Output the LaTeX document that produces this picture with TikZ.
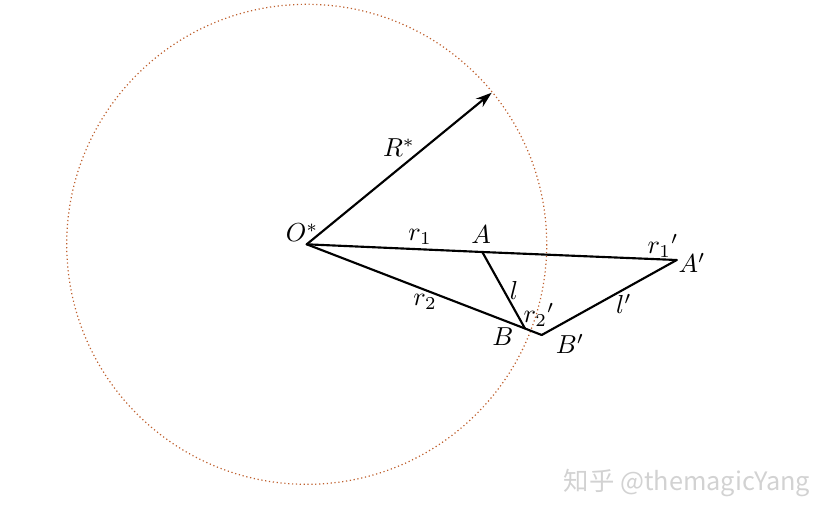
\documentclass[tikz,border=0pt]{standalone}
\usepackage{amsmath,amssymb}
\usepackage{graphicx}
\usepackage{xcolor}
\usepackage{fontspec}
\newfontfamily\cjkfont{Noto Sans CJK SC}
\usetikzlibrary{arrows.meta}

\definecolor{circbrown}{RGB}{190,95,45}
\definecolor{markgrey}{RGB}{210,210,210}
\newcommand{\ptlab}[1]{\scalebox{1.95}{$#1$}}

\begin{document}
\begin{tikzpicture}[x=0.75pt,y=0.75pt,yscale=-1,xscale=1,
  seg/.style={line width=1.6pt,line cap=round},
  lbl/.style={font=\normalsize,inner sep=0.75pt}]
\useasboundingbox (0,0) rectangle (831,519);

% Points
\coordinate (O) at (306.7,244.3);
\coordinate (R) at (491.7,92.7);
\coordinate (A) at (482.3,252);
\coordinate (B) at (525,328.5);
\coordinate (Bp) at (541.7,335);
\coordinate (Ap) at (676.7,260);

% Circle
\draw [circbrown,dotted,line width=0.9pt] (O) circle [radius=240];

% Straight Lines
\draw [seg,-{Stealth[length=12pt,width=8pt]}] (O) -- (R);
\draw [seg] (O) -- (A) -- (Ap);
\draw [seg] (O) -- (B) -- (Bp);
\draw [seg] (A) -- (B);
\draw [seg] (Bp) -- (Ap);

% Text Node
\node [lbl] (lO) at (302,233) {\ptlab{O^*}};
\node [lbl] (lR) at (399,148) {\ptlab{R^*}};
\node [lbl] (lr1) at (420,237) {\ptlab{r_1}};
\node [lbl] (lA) at (481,235) {\ptlab{A}};
\node [lbl] (lr2) at (425,302) {\ptlab{r_2}};
\node [lbl] (ll) at (514,290) {\ptlab{l}};
\node [lbl] (lB) at (503,337) {\ptlab{B}};
\node [lbl] (lr2p) at (539,315) {\ptlab{{r_2}'}};
\node [lbl] (lBp) at (570,344) {\ptlab{B'}};
\node [lbl] (llp) at (624,304) {\ptlab{l'}};
\node [lbl] (lr1p) at (663,246) {\ptlab{{r_1}'}};
\node [lbl] (lAp) at (692,263) {\ptlab{A'}};

% Watermark
\node [font=\cjkfont\fontsize{19}{21}\selectfont,text=markgrey,inner sep=0pt] (mark) at (687,483) {知乎 @themagicYang};

\end{tikzpicture}
\end{document}
